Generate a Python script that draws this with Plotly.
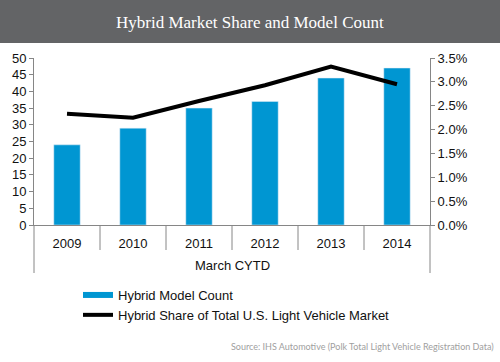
import plotly.graph_objects as go

years = ["2009", "2010", "2011", "2012", "2013", "2014"]
model_count = [24, 29, 35, 37, 44, 47]
hybrid_share_pct = [2.33, 2.25, 2.6, 2.93, 3.32, 2.95]
left_ticks = list(range(0, 51, 5))
right_ticks = [0, 0.5, 1.0, 1.5, 2.0, 2.5, 3.0, 3.5]
right_tick_text = [f"{v:.1f}%" for v in right_ticks]

W, H = 500, 362
ML, MR, MT, MB = 34, 70, 58, 137
PW = W - ML - MR
PH = H - MT - MB

def px_x(px):
    return (px - ML) / PW

def px_y(py):
    return (H - MB - py) / PH

BLUE = "#0096D2"
AXIS = "#868686"
FONT = "Liberation Sans, Arial, sans-serif"
TXT = "#111111"
FS = 13

fig = go.Figure()
fig.add_trace(go.Bar(x=years, y=model_count, marker_color=BLUE, width=0.4,
                     showlegend=False, name="Hybrid Model Count"))
fig.add_trace(go.Scatter(x=[None], y=[None], mode="lines",
                         line=dict(color=BLUE, width=6), name="Hybrid Model Count"))
fig.add_trace(go.Scatter(x=years, y=hybrid_share_pct, mode="lines", yaxis="y2",
                         line=dict(color="black", width=4),
                         name="Hybrid Share of Total U.S. Light Vehicle Market"))

shapes = []
# title bar
shapes.append(dict(type="rect", xref="paper", yref="paper",
                   x0=px_x(0), x1=px_x(W), y0=px_y(43), y1=px_y(0),
                   fillcolor="#636466", line=dict(width=0), layer="below"))
# category dividers
n = len(years)
for k in range(n + 1):
    bottom = 273 if k in (0, n) else 250
    shapes.append(dict(type="line", xref="paper", yref="paper",
                       x0=k / n, x1=k / n, y0=0, y1=px_y(bottom),
                       line=dict(color=AXIS, width=1)))

annotations = [
    dict(text="Hybrid Market Share and Model Count", xref="paper", yref="paper",
         x=px_x(250), y=px_y(22), showarrow=False, xanchor="center", yanchor="middle",
         font=dict(family="Liberation Serif, Georgia, serif", size=17, color="white")),
    dict(text="March CYTD", xref="paper", yref="paper", x=0.5, y=px_y(265),
         showarrow=False, xanchor="center", yanchor="middle",
         font=dict(family=FONT, size=FS, color=TXT)),
    dict(text="Source: IHS Automotive (Polk Total Light Vehicle Registration Data)",
         xref="paper", yref="paper", x=px_x(496), y=px_y(346), showarrow=False,
         xanchor="right", yanchor="middle",
         font=dict(family="Lato, sans-serif", size=9, color="#A0A0A0")),
]

fig.update_layout(
    width=W, height=H,
    margin=dict(l=ML, r=MR, t=MT, b=MB, autoexpand=False),
    plot_bgcolor="white", paper_bgcolor="white",
    font=dict(family=FONT, size=FS, color=TXT),
    shapes=shapes, annotations=annotations,
    xaxis=dict(type="category", showline=True, linecolor=AXIS, linewidth=1,
               ticks="outside", ticklen=6, tickcolor="rgba(0,0,0,0)",
               showgrid=False, tickfont=dict(family=FONT, size=FS, color=TXT)),
    yaxis=dict(range=[0, 50], tickvals=left_ticks, showline=True, linecolor=AXIS,
               ticks="outside", ticklen=4, tickcolor=AXIS, showgrid=False,
               zeroline=False, tickfont=dict(family=FONT, size=FS, color=TXT)),
    yaxis2=dict(range=[0, 3.5], tickvals=right_ticks, ticktext=right_tick_text,
                overlaying="y", side="right", showline=True, linecolor=AXIS,
                ticks="outside", ticklen=4, tickcolor=AXIS, showgrid=False,
                zeroline=False, tickfont=dict(family=FONT, size=FS, color=TXT)),
    legend=dict(x=px_x(78), y=px_y(280), xanchor="left", yanchor="top",
                orientation="v", bgcolor="rgba(0,0,0,0)",
                font=dict(family=FONT, size=FS, color=TXT)),
)

fig.write_html("out.html", config={"displayModeBar": False},
               post_script="document.body.style.margin='0';document.body.style.overflow='hidden';")
